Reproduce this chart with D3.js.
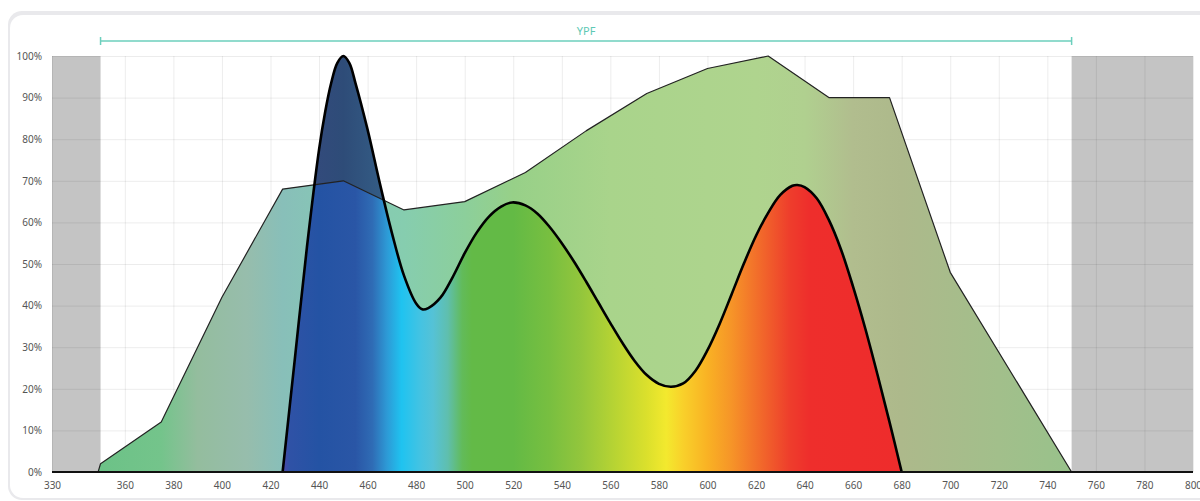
<!DOCTYPE html>
<html><head><meta charset="utf-8">
<script src="https://cdn.jsdelivr.net/npm/d3@7/dist/d3.min.js"></script>
<style>html,body{margin:0;padding:0;background:#fff;}svg{display:block;}</style>
</head><body>
<svg id="c" width="1200" height="501"></svg>
<script>
// ---- data ----
const xTicks = [330,360,380,400,420,440,460,480,500,520,540,560,580,600,620,640,660,680,700,720,740,760,780,800];
const yTicks = [0,10,20,30,40,50,60,70,80,90,100];
const ypfRange = [350, 750];
const ypfLabel = "YPF";
const excluded = [[330,350],[750,800]];
// broad (PAR response) curve: wavelength, percent
const broadWl  = [349,350,375,400,425,450,475,500,525,550,575,600,625,650,675,700,750];
const broadVal = [0,  2,  12, 42, 68, 70, 63, 65, 72, 82, 91, 97, 100,90, 90, 48, 0];
// LED spectrum curve
const specWl  = [425,430,435,440, 442.5,445,447.5,450,452.5,455, 460,465, 470, 475, 480, 482.5,485, 490, 495, 500, 505, 510, 515, 519.5,525, 530, 535, 540,545, 550, 555, 560, 565,570, 575, 580, 585, 590, 595, 600, 605, 610, 615, 620, 625, 630, 635, 637,640, 645, 650, 655, 660, 665, 670, 675,680];
const specVal = [0,  27, 54, 77.5,86.5, 93.5,98.3, 100,98.3, 93.5,82.3,69.5,57.5,47.2,40.5,39.1, 39.4,41.9,46.8,52.6,57.6,61.4,63.8,64.8, 64.1,62.1,58.9,55, 50.6,45.8,40.8,35.8,31, 26.7,23.3,21.2,20.5,21.3,24.3,29.3,35.6,42.8,50.1,56.8,62.3,66.6,68.8,69, 68.5,65.8,60.6,53.5,44.5,34.5,23.5,12, 0];

// ---- styles ----
const broadStops = [[350,"#6cc287"],[375,"#74c48b"],[390,"#94bd9e"],[410,"#97bdac"],[425,"#88bfb9"],[450,"#86c9b4"],[475,"#86cdaf"],[500,"#8ccf9b"],[520,"#97d088"],[560,"#a9d48b"],[620,"#afd48e"],[640,"#b0d08f"],[660,"#b1bd8e"],[680,"#adb98b"],[720,"#a2bf8b"],[750,"#98c28b"]];
const specStops = [[425,"#4c48a6"],[428,"#2f52a6"],[440,"#2453a4"],[455,"#2a56a6"],[462,"#2f6cb5"],[468,"#2d9ad6"],[474,"#1fc3f0"],[482,"#45c3e2"],[487,"#55c2d6"],[493,"#5fbfae"],[499,"#62bb5a"],[503,"#63ba47"],[520,"#63ba45"],[535,"#78bf40"],[548,"#93c63c"],[562,"#b8d433"],[575,"#dbe02c"],[583,"#f3e92e"],[590,"#f9d02a"],[600,"#f9b224"],[610,"#f69428"],[618,"#f3772a"],[626,"#f05a2b"],[634,"#ee3d2c"],[642,"#ee2e2c"],[681,"#ee2c2c"]];
const darkStops = [[430,"#36497e"],[450,"#2e4c78"],[470,"#356088"]];

const svg = d3.select("#c");
const x = d3.scaleLinear().domain([330,800]).range([52,1193]);
const y = d3.scaleLinear().domain([0,100]).range([472,56]);
const font = "'Noto Sans', 'DejaVu Sans', sans-serif";

// card
svg.append("rect").attr("x",8).attr("y",11).attr("width",1220).attr("height",489).attr("rx",14).attr("fill","#e9e9ec");
svg.append("rect").attr("x",10).attr("y",15).attr("width",1220).attr("height",483).attr("rx",13).attr("fill","#ffffff");

const defs = svg.append("defs");
function grad(id, stops){
  const g = defs.append("linearGradient").attr("id",id).attr("gradientUnits","userSpaceOnUse")
    .attr("x1",x(330)).attr("x2",x(800)).attr("y1",0).attr("y2",0);
  stops.forEach(s=>g.append("stop").attr("offset",((s[0]-330)/470).toFixed(5)).attr("stop-color",s[1]));
}
grad("gBroad", broadStops);
grad("gSpec", specStops);
grad("gDark", darkStops);
defs.append("clipPath").attr("id","plot").append("rect")
  .attr("x",x(330)).attr("y",0).attr("width",x(800)-x(330)).attr("height",y(0));

// excluded regions
excluded.forEach(r=>{
  svg.append("rect").attr("x",x(r[0])).attr("y",y(100)).attr("width",x(r[1])-x(r[0])).attr("height",y(0)-y(100)).attr("fill","#c4c4c4");
});

// grid
const grid = svg.append("g").attr("stroke","rgba(0,0,0,0.075)").attr("stroke-width",1);
yTicks.forEach(t=>grid.append("line").attr("x1",x(330)).attr("x2",x(800)).attr("y1",y(t)+0.5).attr("y2",y(t)+0.5));
xTicks.forEach(t=>grid.append("line").attr("x1",x(t)+0.5).attr("x2",x(t)+0.5).attr("y1",y(0)).attr("y2",y(100)));

const broad = broadWl.map((w,i)=>[w,broadVal[i]]);
const spec = specWl.map((w,i)=>[w,specVal[i]]);

const areaB = d3.area().x(d=>x(d[0])).y0(y(0)).y1(d=>y(d[1])).curve(d3.curveLinear);
const lineB = d3.line().x(d=>x(d[0])).y(d=>y(d[1])).curve(d3.curveLinear);
const sc = d3.curveCatmullRom.alpha(0.5);
const areaS = d3.area().x(d=>x(d[0])).y0(y(0)).y1(d=>y(d[1])).curve(sc);
const lineS = d3.line().x(d=>x(d[0])).y(d=>y(d[1])).curve(sc);

const pg = svg.append("g").attr("clip-path","url(#plot)");
pg.append("path").datum(broad).attr("d",areaB).attr("fill","url(#gBroad)");
pg.append("path").datum(spec).attr("d",areaS).attr("fill","url(#gSpec)");

// part of spectrum above broad curve drawn darker
const aboveArea = d3.area().x(d=>x(d[0])).y0(0).y1(d=>y(d[1])).curve(d3.curveLinear);
defs.append("clipPath").attr("id","above").append("path").datum(broad).attr("d",aboveArea);
pg.append("g").attr("clip-path","url(#above)").append("path").datum(spec).attr("d",areaS).attr("fill","url(#gDark)");

pg.append("path").datum(broad).attr("d",lineB).attr("fill","none").attr("stroke","#222").attr("stroke-width",1.2).attr("stroke-linejoin","round");
pg.append("path").datum(spec).attr("d",lineS).attr("fill","none").attr("stroke","#000").attr("stroke-width",2.6).attr("stroke-linejoin","round");

// baseline
svg.append("line").attr("x1",x(330)).attr("x2",x(800)).attr("y1",y(0)).attr("y2",y(0)).attr("stroke","#111").attr("stroke-width",2);

// axes labels
const yAxis = d3.axisLeft(y).tickValues(yTicks).tickFormat(d=>d+"%").tickSize(0).tickPadding(10);
const gy = svg.append("g").attr("transform",`translate(${x(330)},0)`).call(yAxis);
gy.select(".domain").remove();
gy.selectAll("text").attr("font-family",font).attr("font-size",10).attr("fill","#555");

const xAxis = d3.axisBottom(x).tickValues(xTicks).tickFormat(d3.format("d")).tickSize(0).tickPadding(10);
const gx = svg.append("g").attr("transform",`translate(0,${y(0)})`).call(xAxis);
gx.select(".domain").remove();
gx.selectAll("text").attr("font-family",font).attr("font-size",10).attr("fill","#555");

// YPF bracket
const by = 41;
const ypf = svg.append("g").attr("stroke","#6ccfbd").attr("stroke-width",1.5);
ypf.append("line").attr("x1",x(ypfRange[0])).attr("x2",x(ypfRange[1])).attr("y1",by).attr("y2",by);
ypf.append("line").attr("x1",x(ypfRange[0])).attr("x2",x(ypfRange[0])).attr("y1",by-4).attr("y2",by+4);
ypf.append("line").attr("x1",x(ypfRange[1])).attr("x2",x(ypfRange[1])).attr("y1",by-4).attr("y2",by+4);
svg.append("text").attr("x",x((ypfRange[0]+ypfRange[1])/2)).attr("y",35).attr("text-anchor","middle")
  .attr("font-family",font).attr("font-size",11).attr("fill","#5ec9b5").text(ypfLabel);
</script>
</body></html>
